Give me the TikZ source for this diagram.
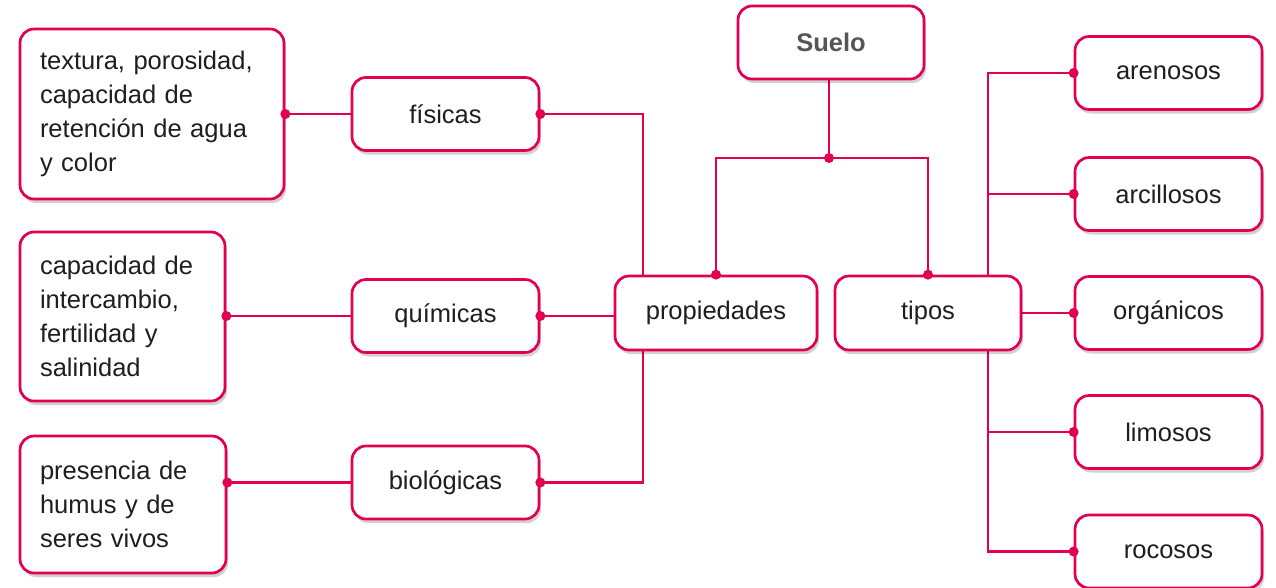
\documentclass[tikz,border=0pt]{standalone}
\usepackage{fontspec}
\setmainfont{Liberation Sans}
\usetikzlibrary{shadows,backgrounds}
\definecolor{crim}{RGB}{226,0,80}
\definecolor{txt}{RGB}{30,30,30}
\definecolor{sueloc}{RGB}{85,85,85}
\begin{document}
\begin{tikzpicture}[x=1pt,y=-1pt,
  box/.style={draw=crim, line width=2.7pt, fill=white, rounded corners=14pt,
    text=txt, font=\fontsize{25.5}{34}\selectfont, inner sep=0pt,
    drop shadow={shadow xshift=2pt, shadow yshift=-4pt, opacity=0.18, fill=black}},
  small/.style={box, minimum width=187pt, minimum height=73pt},
  big/.style={box, align=left, inner xsep=20pt},
  con/.style={draw=crim, line width=2.7pt},
  dot/.style={circle, fill=crim, inner sep=0pt, minimum size=10pt}]
\useasboundingbox (0,0) rectangle (1276,587);

\node[small, minimum width=186pt, text=sueloc, font=\fontsize{25.5}{34}\selectfont\bfseries] (suelo) at (831,42.5) {Suelo};

\node[big, text width=224pt, minimum height=170pt] (tex) at (152,114) {textura, porosidad,\\capacidad de\\retención de agua\\y color};
\node[small] (fis) at (445.5,114) {físicas};

\node[big, text width=165pt, minimum height=169pt] (qtext) at (122.5,316.5) {capacidad de\\intercambio,\\fertilidad y\\salinidad};
\node[small] (qui) at (445.5,316) {químicas};

\node[big, text width=166pt, minimum height=137pt] (btext) at (123,504.5) {presencia de\\humus y de\\seres vivos};
\node[small] (bio) at (445.5,482.5) {biológicas};

\node[small, minimum width=202pt, minimum height=74pt] (prop) at (716,313) {propiedades};
\node[small, minimum width=186pt, minimum height=74pt] (tipos) at (928,313) {tipos};

\node[small] (are) at (1168.5,73) {arenosos};
\node[small] (arc) at (1168.5,194) {arcillosos};
\node[small] (org) at (1168.5,313) {orgánicos};
\node[small] (lim) at (1168.5,432) {limosos};
\node[small] (roc) at (1168.5,551.5) {rocosos};

\coordinate (j) at (829,158);
\coordinate (lspine) at (643,313);
\coordinate (rspine) at (988,313);

\begin{pgfonlayer}{background}
\draw[con] (suelo.south -| j) -- (j);
\draw[con] (prop.north) |- (j) -| (tipos.north);
\draw[con] (tex.east) -- (fis.west);
\draw[con] (qtext.east |- qui.west) -- (qui.west);
\draw[con] (btext.east |- bio.west) -- (bio.west);
\draw[con] (fis.east) -| (lspine);
\draw[con] (bio.east) -| (lspine);
\draw[con] (qui.east) -- (qui.east -| prop.west);
\draw[con] (tipos.east) -- (org.west);
\draw[con] (are.west) -| (rspine |- roc.west) -- (roc.west);
\draw[con] (arc.west) -- (arc.west -| rspine);
\draw[con] (lim.west) -- (lim.west -| rspine);
\end{pgfonlayer}

\foreach \p in {tex.east, fis.east, qui.east, bio.east, j, prop.north, tipos.north, are.west, arc.west, org.west, lim.west, roc.west}
  \node[dot] at (\p) {};
\node[dot] at (qtext.east |- qui.west) {};
\node[dot] at (btext.east |- bio.west) {};
\end{tikzpicture}
\end{document}
